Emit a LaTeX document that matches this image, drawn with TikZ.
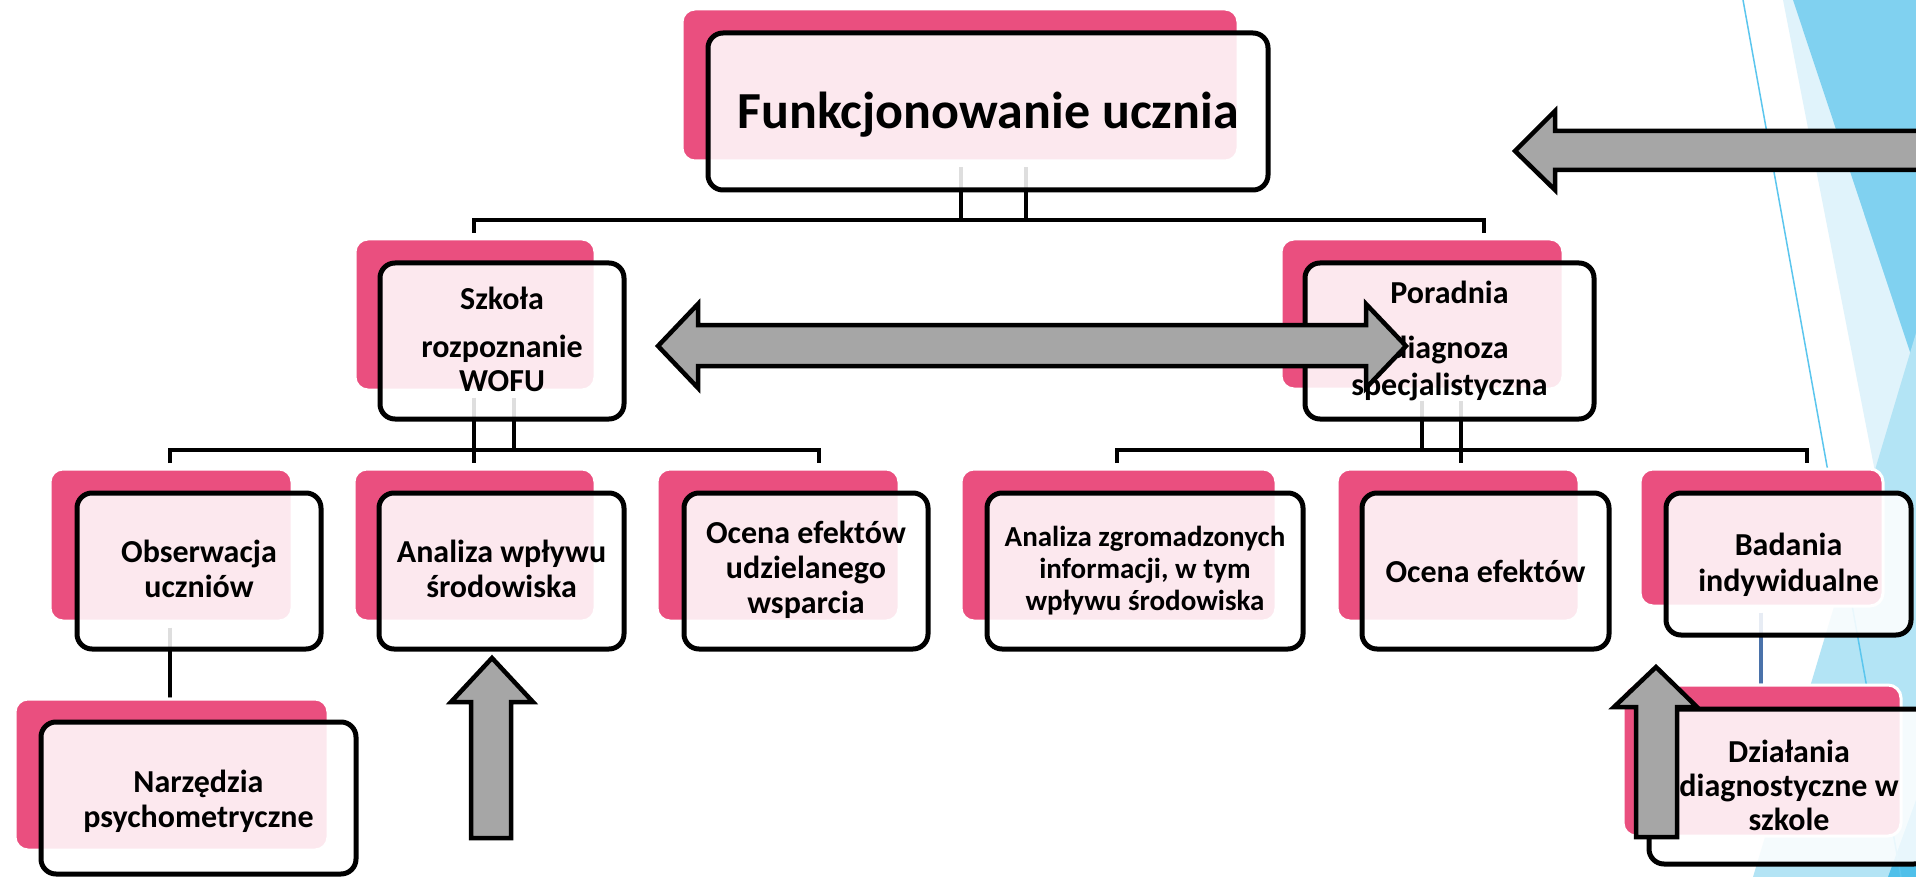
\documentclass[tikz,border=0pt]{standalone}
\usepackage{fontspec}
\setmainfont{Carlito}
\usetikzlibrary{calc}
\pgfdeclarelayer{back}
\pgfdeclarelayer{conn}
\pgfsetlayers{back,conn,main}
\definecolor{pinkc}{HTML}{EA4F7F}
\definecolor{arrowgray}{HTML}{A6A6A6}
\definecolor{bgA}{HTML}{E0F3FB}
\definecolor{bgB}{HTML}{80D1F0}
\definecolor{bgC}{HTML}{B3E4F5}
\definecolor{bgD}{HTML}{4FC0EA}
\definecolor{thinblue}{HTML}{5BC6EE}
\definecolor{linkblue}{HTML}{4A72AA}
\newcommand\mlines[1]{\begin{tabular}[t]{@{}c@{}}#1\end{tabular}}
\tikzset{
  pinkbox/.style={fill=pinkc, draw=white, line width=3pt, rounded corners=13pt, inner sep=0pt},
  outbox/.style={draw=black, line width=5pt, fill=white, fill opacity=0.87, rounded corners=15pt, inner sep=0pt},
  txt/.style={anchor=base, inner sep=0pt, font=\bfseries\fontsize{32}{35}\selectfont},
  conn/.style={draw=black, line width=4pt},
  blockarrow/.style={fill=arrowgray, draw=black, line width=4.5pt, line join=miter},
}
\begin{document}
\begin{tikzpicture}[x=1pt, y=-1pt]
\useasboundingbox (0,0) rectangle (1916,877);
\begin{pgfonlayer}{back}
  \fill[white] (0,0) rectangle (1916,877);
  \fill[bgA] (1783,0) -- (1916,0) -- (1916,682) -- cycle;
  \fill[bgB] (1793,0) -- (1916,0) -- (1916,370) -- cycle;
  \fill[bgC] (1916,333) -- (1916,877) -- (1753,877) -- cycle;
  \fill[bgD] (1916,800) -- (1916,877) -- (1888,877) -- cycle;
  \draw[thinblue, line width=1.5pt] (1743,0) -- (1901,877);
\end{pgfonlayer}

% level 1
\node[pinkbox, minimum width=556pt, minimum height=152pt] (topP) at (960,85) {};
\node[outbox, minimum width=560pt, minimum height=157pt] (top) at (988,111.5) {};
\node[txt, font=\bfseries\fontsize{52}{60}\selectfont] (top-t) at (988,129) {Funkcjonowanie ucznia};

% level 2
\node[pinkbox, minimum width=240pt, minimum height=151pt] (szkP) at (475,314.5) {};
\node[outbox, minimum width=244pt, minimum height=156pt] (szk) at (502,341) {};
\node[txt, font=\bfseries\fontsize{32}{34}\selectfont] (szk-t) at (502,309) {\mlines{Szkoła\\[14pt]rozpoznanie\\WOFU}};

\node[pinkbox, minimum width=282pt, minimum height=150pt] (porP) at (1422,314) {};
\node[outbox, minimum width=289pt, minimum height=156pt] (por) at (1449.5,341) {};
\node[txt, font=\bfseries\fontsize{32}{37}\selectfont] (por-t) at (1449.5,303) {\mlines{Poradnia\\[18pt]diagnoza\\specjalistyczna}};

% level 3
\node[pinkbox, minimum width=242pt, minimum height=152pt] (obsP) at (171,545) {};
\node[outbox, minimum width=244pt, minimum height=156pt] (obs) at (199,571) {};
\node[txt] (obs-t) at (199,562) {\mlines{Obserwacja\\uczniów}};

\node[pinkbox, minimum width=241pt, minimum height=152pt] (anwP) at (474.5,545) {};
\node[outbox, minimum width=245pt, minimum height=156pt] (anw) at (501.5,571) {};
\node[txt] (anw-t) at (501.5,562) {\mlines{Analiza wpływu\\środowiska}};

\node[pinkbox, minimum width=242pt, minimum height=152pt] (oceaP) at (778,545) {};
\node[outbox, minimum width=244pt, minimum height=156pt] (ocea) at (806,571) {};
\node[txt] (ocea-t) at (806,543) {\mlines{Ocena efektów\\udzielanego\\wsparcia}};

\node[pinkbox, minimum width=315pt, minimum height=152pt] (anzP) at (1118.5,545) {};
\node[outbox, minimum width=316pt, minimum height=156pt] (anz) at (1145,571) {};
\node[txt, font=\bfseries\fontsize{29}{32}\selectfont] (anz-t) at (1145,546) {\mlines{Analiza zgromadzonych\\informacji, w tym\\wpływu środowiska}};

\node[pinkbox, minimum width=242pt, minimum height=152pt] (ocebP) at (1458,545) {};
\node[outbox, minimum width=247pt, minimum height=156pt] (oceb) at (1485.5,571) {};
\node[txt] (oceb-t) at (1485.5,582) {Ocena efektów};

\node[pinkbox, minimum width=243pt, minimum height=137pt] (badP) at (1761.5,537.5) {};
\node[outbox, minimum width=245pt, minimum height=142pt] (bad) at (1788.5,564) {};
\node[txt, font=\bfseries\fontsize{32}{36}\selectfont] (bad-t) at (1788.5,555) {\mlines{Badania\\indywidualne}};

% level 4
\node[pinkbox, minimum width=313pt, minimum height=151pt] (narP) at (171.5,774.5) {};
\node[outbox, minimum width=315pt, minimum height=152pt] (nar) at (198.5,798) {};
\node[txt] (nar-t) at (198.5,792) {\mlines{Narzędzia\\psychometryczne}};

\node[pinkbox, minimum width=278pt, minimum height=151pt] (dziP) at (1762,760.5) {};
\node[outbox, minimum width=280pt, minimum height=155pt] (dzi) at (1789,786.5) {};
\node[txt, font=\bfseries\fontsize{32}{34}\selectfont] (dzi-t) at (1789,762) {\mlines{Działania\\diagnostyczne w\\szkole}};

% connectors
\coordinate (bT1) at (474,220);
\coordinate (bT2) at (1484,220);
\coordinate (bL1) at (170,450);
\coordinate (bL2) at (819,450);
\coordinate (bR1) at (1117,450);
\coordinate (bR2) at (1807,450);
\begin{pgfonlayer}{conn}
  \draw[conn] ([xshift=-27pt,yshift=25pt]top.south) -- ([xshift=-27pt]top.south |- bT1)
     -- ([xshift=38pt]top.south |- bT1) -- ([xshift=38pt,yshift=25pt]top.south);
  \draw[conn] (bT1) ++(0,13) -- (bT1) -- (bT2) -- ++(0,13);

  \draw[conn] ([xshift=-28pt,yshift=24pt]szk.south) -- ([xshift=-28pt]szk.south |- bL1)
     -- ([xshift=12pt]szk.south |- bL1) -- ([xshift=12pt,yshift=24pt]szk.south);
  \draw[conn] (bL1) ++(0,13) -- (bL1) -- (bL2) -- ++(0,13);
  \draw[conn] ([xshift=-28pt]szk.south |- bL1) -- ++(0,13);

  \draw[conn] ([xshift=-27.5pt,yshift=21pt]por.south) -- ([xshift=-27.5pt]por.south |- bR1)
     -- ([xshift=11.5pt]por.south |- bR1) -- ([xshift=11.5pt,yshift=21pt]por.south);
  \draw[conn] (bR1) ++(0,13) -- (bR1) -- (bR2) -- ++(0,13);
  \draw[conn] ([xshift=11.5pt]por.south |- bR1) -- ++(0,13);

  \draw[conn] ([xshift=-29pt,yshift=24pt]obs.south) -- ([xshift=-29pt]obs.south |- narP.north) -- ++(0,-6);
  \draw[conn, draw=linkblue] ([xshift=-27.5pt,yshift=25pt]bad.south) -- ([xshift=-27.5pt]bad.south |- dziP.north) -- ++(0,-5);
\end{pgfonlayer}

% block arrows
\draw[blockarrow] (658,346) -- (698,304) -- (698,325) -- (1366,325) -- (1366,304) -- (1406,346)
   -- (1366,388) -- (1366,366) -- (698,366) -- (698,388) -- cycle;
\draw[blockarrow] (1515,151) -- (1555,111) -- (1555,131) -- (1960,131) -- (1960,170) -- (1555,170) -- (1555,190) -- cycle;
\draw[blockarrow] (492,658) -- (533,702) -- (511,702) -- (511,838) -- (471,838) -- (471,702) -- (451,702) -- cycle;
\draw[blockarrow] (1656,667) -- (1697,707) -- (1677,707) -- (1677,837) -- (1636,837) -- (1636,707) -- (1614,707) -- cycle;
\end{tikzpicture}
\end{document}
